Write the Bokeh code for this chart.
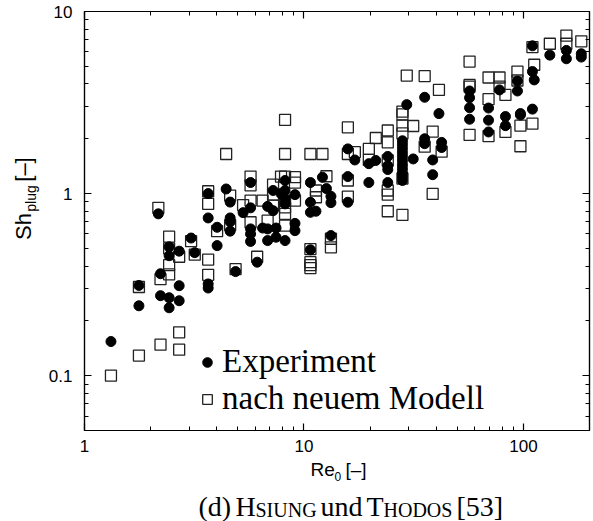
from bokeh.plotting import figure
from bokeh.layouts import column, row
from bokeh.models import (FixedTicker, LogAxis, Label, Legend, LegendItem,
                          CustomJSTickFormatter)
from bokeh.embed import file_html
from bokeh.resources import INLINE

# ---- data: Experiment (filled dots) ----
exp_re = [1.32, 1.77, 1.77, 2.17, 2.22, 2.22, 2.43, 2.43, 2.43, 2.43,
          2.70, 2.70, 2.70, 3.06, 3.18, 3.66, 3.66, 3.66, 3.66, 4.02,
          4.02, 4.42, 4.61, 4.61, 4.61, 4.61, 4.88, 5.28, 5.71, 5.71,
          5.71, 5.71, 5.71, 6.12, 6.48, 6.83, 6.83, 6.83, 7.23, 7.23,
          7.46, 7.46, 7.86, 8.20, 8.20, 8.20, 8.20, 8.20, 9.10, 9.10,
          9.10, 10.7, 10.7, 10.7, 10.7, 11.34, 12.14, 12.66, 13.27, 13.27,
          13.27, 15.85, 15.85, 15.85, 17.05, 19.75, 19.75, 21.25, 24.09, 24.09,
          24.09, 24.09, 28.1, 28.1, 28.1, 28.1, 28.1, 28.1, 28.1, 28.1,
          28.1, 28.1, 28.1, 29.4, 31.46, 35.48, 35.48, 35.48, 38.59, 38.59,
          41.21, 42.39, 42.39, 56.83, 56.83, 56.83, 56.83, 69.34, 69.34, 69.34,
          77.8, 82.8, 82.8, 93.9, 93.9, 96.9, 96.9, 109.9, 109.9, 109.9,
          112.0, 131.9, 156.9, 156.9, 183.5, 183.5]
exp_sh = [0.154, 0.313, 0.242, 0.774, 0.363, 0.275, 0.51, 0.456, 0.268, 0.236,
          0.483, 0.312, 0.258, 0.57, 0.474, 1.00, 0.735, 0.319, 0.303, 0.653,
          0.518, 1.06, 0.898, 0.735, 0.70, 0.622, 0.373, 0.786, 1.15, 0.835,
          0.64, 0.60, 0.546, 0.42, 0.647, 0.85, 0.64, 0.552, 1.04, 0.806,
          0.647, 0.576, 1.00, 1.18, 1.04, 0.935, 0.878, 0.552, 0.987, 0.686,
          0.626, 1.15, 0.896, 0.789, 0.491, 0.80, 1.23, 1.065, 0.966, 0.892,
          0.588, 1.76, 1.24, 0.896, 1.53, 1.46, 1.15, 1.52, 1.60, 1.42,
          1.355, 1.15, 1.95, 1.86, 1.77, 1.68, 1.60, 1.52, 1.44, 1.37,
          1.30, 1.24, 1.18, 3.08, 1.55, 3.38, 2.00, 1.88, 1.53, 1.27,
          2.75, 1.91, 1.79, 3.66, 3.36, 2.96, 2.56, 2.95, 2.53, 2.18,
          3.71, 2.65, 2.36, 4.15, 3.66, 2.75, 2.70, 6.48, 4.68, 2.91,
          4.21, 5.76, 6.11, 5.50, 5.86, 5.62]

# ---- data: nach neuem Modell (open squares) ----
mod_re = [1.32, 1.77, 1.77, 2.17, 2.22, 2.22, 2.43, 2.43, 2.43, 2.43,
          2.70, 2.70, 2.70, 3.06, 3.18, 3.66, 3.66, 3.66, 3.66, 4.02,
          4.42, 4.61, 4.61, 4.88, 5.28, 5.71, 5.71, 5.71, 5.71, 6.12,
          6.48, 6.83, 7.23, 7.23, 7.23, 7.86, 8.20, 8.20, 8.20, 8.20,
          8.20, 8.20, 8.20, 9.10, 9.10, 9.10, 10.7, 10.7, 10.7, 10.7,
          10.7, 11.34, 11.34, 12.14, 12.66, 13.27, 13.27, 15.85, 15.85, 15.85,
          15.85, 17.05, 19.75, 19.75, 21.25, 24.09, 24.09, 24.09, 24.09, 24.09,
          24.09, 28.1, 28.1, 28.1, 28.1, 28.1, 28.1, 29.4, 31.46, 35.48,
          35.48, 38.59, 38.59, 41.21, 42.39, 56.83, 56.83, 56.83, 56.83, 69.34,
          69.34, 69.34, 77.8, 77.8, 82.8, 82.8, 93.9, 93.9, 96.9, 96.9,
          109.9, 109.9, 112.0, 131.9, 156.9, 156.9, 183.5]
mod_sh = [0.10, 0.307, 0.129, 0.835, 0.339, 0.148, 0.58, 0.50, 0.405, 0.36,
          0.45, 0.173, 0.139, 0.548, 0.462, 1.03, 0.878, 0.434, 0.358, 0.622,
          1.65, 0.975, 0.672, 0.385, 0.865, 1.24, 1.11, 0.915, 0.696, 0.45,
          0.915, 0.71, 1.12, 0.987, 0.859, 1.24, 2.54, 1.65, 1.24, 0.915,
          0.84, 0.774, 0.667, 1.23, 1.15, 0.915, 1.65, 0.496, 0.42, 0.405,
          0.39, 1.04, 0.955, 1.65, 1.245, 0.565, 0.507, 2.31, 1.65, 1.18,
          0.963, 1.69, 1.76, 1.53, 2.02, 2.22, 1.91, 1.52, 1.04, 0.987,
          0.80, 2.82, 2.72, 2.36, 2.14, 1.21, 0.764, 4.45, 2.35, 4.42,
          1.81, 2.19, 0.996, 3.71, 1.70, 5.31, 3.95, 3.87, 2.10, 4.34,
          3.30, 2.07, 4.34, 3.87, 3.48, 2.18, 4.68, 4.18, 2.36, 1.82,
          6.37, 2.42, 5.10, 6.65, 7.38, 6.65, 6.86]

x_major = [1, 10, 100]
x_minor = [2, 3, 4, 5, 6, 7, 8, 9, 20, 30, 40, 50, 60, 70, 80, 90, 200]
y_major = [0.1, 1, 10]
y_minor = [0.05, 0.06, 0.07, 0.08, 0.09, 0.2, 0.3, 0.4, 0.5, 0.6, 0.7, 0.8, 0.9,
           2, 3, 4, 5, 6, 7, 8, 9]

SANS = "Liberation Sans"
SERIF = "Liberation Serif"

# ---------------- main plot ----------------
p = figure(width=548, height=460, x_axis_type="log", y_axis_type="log",
           x_range=(1, 200), y_range=(0.05, 10),
           output_backend="svg", toolbar_location=None,
           min_border_left=38, min_border_right=4, min_border_top=11,
           min_border_bottom=30)
p.xgrid.visible = False
p.ygrid.visible = False
p.outline_line_color = "black"
p.outline_line_width = 1.2
p.background_fill_color = "white"
p.border_fill_color = "white"

fmt = CustomJSTickFormatter(code="return String(tick);")
blank = CustomJSTickFormatter(code="return '';")

def style_axis(ax, ticks, minor, labels=True):
    ax.ticker = FixedTicker(ticks=ticks, minor_ticks=minor)
    ax.axis_line_color = "black"
    ax.axis_line_width = 1.2
    ax.major_tick_in = 7
    ax.major_tick_out = 0
    ax.minor_tick_in = 4
    ax.minor_tick_out = 0
    ax.major_tick_line_color = "black"
    ax.minor_tick_line_color = "black"
    ax.major_tick_line_width = 1.2
    ax.minor_tick_line_width = 1.0
    ax.axis_label = None
    ax.major_label_text_font = SANS
    ax.major_label_text_font_size = "17px"
    ax.major_label_text_color = "black"
    if labels:
        ax.formatter = fmt
    else:
        ax.formatter = blank
        ax.major_label_standoff = 0

style_axis(p.xaxis[0], x_major, x_minor)
style_axis(p.yaxis[0], y_major, y_minor)
p.xaxis[0].major_label_standoff = 9
p.yaxis[0].major_label_standoff = 12

top = LogAxis()
style_axis(top, x_major, x_minor, labels=False)
p.add_layout(top, "above")
right = LogAxis()
style_axis(right, y_major, y_minor, labels=False)
p.add_layout(right, "right")

r_sq = p.scatter(mod_re, mod_sh, marker="square", size=11,
                 fill_color=None, line_color="#222222", line_width=1.3)
r_dot = p.scatter(exp_re, exp_sh, marker="circle", size=10,
                  fill_color="black", line_color="black")

legend = Legend(items=[LegendItem(label="Experiment", renderers=[r_dot]),
                       LegendItem(label="nach neuem Modell", renderers=[r_sq])],
                location=(111, 13), padding=0, spacing=-1,
                glyph_width=24, glyph_height=24, label_standoff=3,
                label_text_font=SERIF, label_text_font_size="33px",
                label_text_color="black",
                border_line_color=None, background_fill_alpha=0)
p.add_layout(legend)

# ---------------- text panels ----------------
def text_panel(w, h):
    f = figure(width=w, height=h, x_range=(0, 1), y_range=(0, 1),
               output_backend="svg", toolbar_location=None,
               x_axis_location=None, y_axis_location=None, min_border=0)
    f.xgrid.visible = False
    f.ygrid.visible = False
    f.outline_line_color = None
    f.background_fill_color = "white"
    f.border_fill_color = "white"
    return f

def lab(f, text, x, y, size, font=SANS, angle=0, align="left"):
    f.add_layout(Label(text=text, x=x, y=y, x_units="screen", y_units="screen",
                       text_font=font, text_font_size=size, angle=angle,
                       angle_units="deg", text_color="black",
                       text_baseline="middle", text_align=align))

# y axis label  Sh_plug [-]   (panel 45 x 460, origin bottom-left)
yl = text_panel(45, 460)
lab(yl, "Sh", 23, 204, "22px", angle=90, align="center")
lab(yl, "plug", 30, 232, "14px", angle=90, align="center")
lab(yl, "[\u2013]", 23, 261, "22px", angle=90, align="center")

# x axis label and caption (panel 593 x 61)
cp = text_panel(593, 61)
lab(cp, "Re", 310, 52, "19px")
lab(cp, "0", 334, 45, "12px")
lab(cp, "[\u2013]", 345, 52, "19px")

lab(cp, "(d)", 198, 15, "28px", font=SERIF)
lab(cp, "H", 235, 15, "28px", font=SERIF)
lab(cp, "SIUNG", 255, 12, "20px", font=SERIF)
lab(cp, "und", 320, 15, "28px", font=SERIF)
lab(cp, "T", 366, 15, "28px", font=SERIF)
lab(cp, "HODOS", 383, 12, "20px", font=SERIF)
lab(cp, "[53]", 456, 15, "28px", font=SERIF)

layout = column(row(yl, p, spacing=0), cp, spacing=0)
open("out.html", "w").write(file_html(layout, INLINE))
